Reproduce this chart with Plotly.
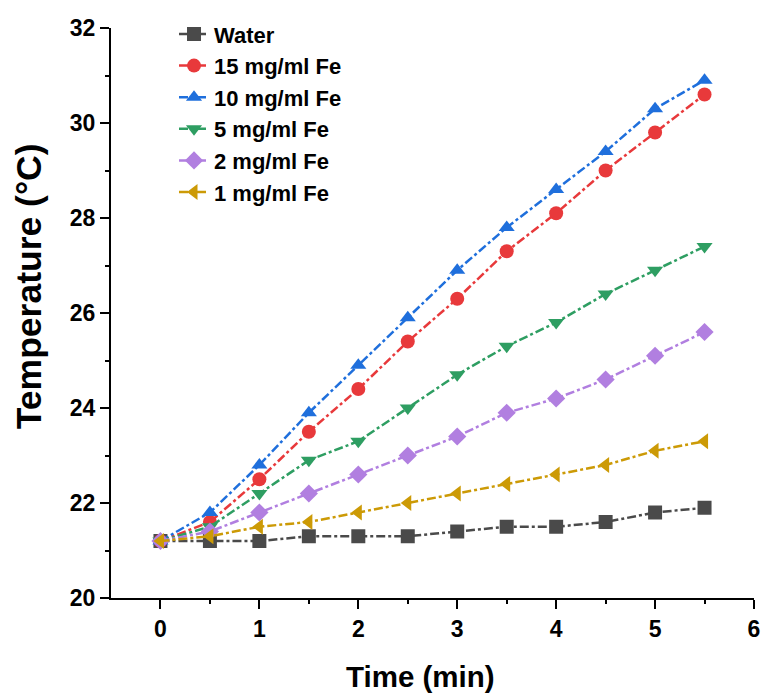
import plotly.graph_objects as go

time_min = [0, 0.5, 1, 1.5, 2, 2.5, 3, 3.5, 4, 4.5, 5, 5.5]
water = [21.2, 21.2, 21.2, 21.3, 21.3, 21.3, 21.4, 21.5, 21.5, 21.6, 21.8, 21.9]
fe15 = [21.2, 21.6, 22.5, 23.5, 24.4, 25.4, 26.3, 27.3, 28.1, 29.0, 29.8, 30.6]
fe10 = [21.2, 21.8, 22.8, 23.9, 24.9, 25.9, 26.9, 27.8, 28.6, 29.4, 30.3, 30.9]
fe5 = [21.2, 21.5, 22.2, 22.9, 23.3, 24.0, 24.7, 25.3, 25.8, 26.4, 26.9, 27.4]
fe2 = [21.2, 21.4, 21.8, 22.2, 22.6, 23.0, 23.4, 23.9, 24.2, 24.6, 25.1, 25.6]
fe1 = [21.2, 21.3, 21.5, 21.6, 21.8, 22.0, 22.2, 22.4, 22.6, 22.8, 23.1, 23.3]

x_ticks = [0, 1, 2, 3, 4, 5, 6]
y_ticks = [20, 22, 24, 26, 28, 30, 32]

series = [
    ("Water", water, "#4a4a4a", "square"),
    ("15 mg/ml Fe", fe15, "#e8393b", "circle"),
    ("10 mg/ml Fe", fe10, "#1f6fdc", "triangle-up"),
    ("5 mg/ml Fe", fe5, "#2e9e62", "triangle-down"),
    ("2 mg/ml Fe", fe2, "#b17fe0", "diamond"),
    ("1 mg/ml Fe", fe1, "#cc9a06", "triangle-left"),
]

fig = go.Figure()
for name, vals, color, sym in series:
    fig.add_trace(go.Scatter(
        x=time_min, y=vals, name=name, mode="lines+markers",
        line=dict(color=color, width=2.5, dash="dashdot"),
        marker=dict(symbol=sym, size=14, color=color),
    ))

font_family = "Liberation Sans, Arial, sans-serif"
fig.update_layout(
    width=764, height=693,
    paper_bgcolor="white", plot_bgcolor="white",
    margin=dict(l=111, r=10, t=28, b=95),
    font=dict(family=font_family, color="black"),
    showlegend=True,
    legend=dict(x=0.098, y=1.026, xanchor="left", yanchor="top",
                bgcolor="rgba(0,0,0,0)", font=dict(size=22, family=font_family, weight="bold"),
                tracegroupgap=0),
    xaxis=dict(
        range=[-0.5, 6.0], tickmode="array", tickvals=x_ticks, automargin=False,
        showgrid=False, zeroline=False, showline=True, linecolor="black", linewidth=2,
        ticks="outside", ticklen=9, tickwidth=2, tickcolor="black",
        tickfont=dict(size=23, family=font_family, weight="bold"),
        ticklabeloverflow="allow",
        minor=dict(tickvals=[0.5, 1.5, 2.5, 3.5, 4.5, 5.5], ticks="outside", ticklen=4, tickwidth=2, tickcolor="black"),
    ),
    yaxis=dict(
        range=[20, 32], tickmode="array", tickvals=y_ticks, automargin=False,
        showgrid=False, zeroline=False, showline=True, linecolor="black", linewidth=2,
        ticks="outside", ticklen=9, tickwidth=2, tickcolor="black",
        tickfont=dict(size=23, family=font_family, weight="bold"),
        minor=dict(tickvals=[21, 23, 25, 27, 29, 31], ticks="outside", ticklen=4, tickwidth=2, tickcolor="black"),
    ),
    annotations=[
        dict(text="Time (min)", xref="paper", yref="paper", x=0.5, y=0, xshift=-12, yshift=-78,
             xanchor="center", yanchor="middle", showarrow=False,
             font=dict(size=29.5, family=font_family, weight="bold", color="black")),
        dict(text="Temperature (°C)", xref="paper", yref="paper", x=0, y=0.547, xshift=-82,
             xanchor="center", yanchor="middle", showarrow=False, textangle=-90,
             font=dict(size=35.5, family=font_family, weight="bold", color="black")),
    ],
)

fig.write_html("out.html", config={"displayModeBar": False},
               post_script="document.body.style.margin='0';document.body.style.overflow='hidden';")
